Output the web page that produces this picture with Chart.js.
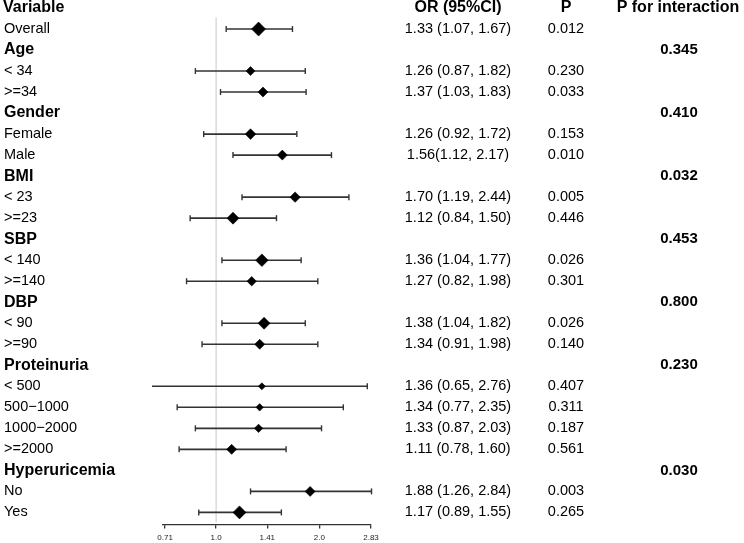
<!DOCTYPE html>
<html>
<head>
<meta charset="utf-8">
<script src="https://cdn.jsdelivr.net/npm/chart.js@4"></script>
<style>
  html, body { margin: 0; padding: 0; background: #fff; }
  canvas { display: block; }
</style>
</head>
<body>
<canvas id="forest" width="744" height="543"></canvas>
<script>
// rows after the header row (row 0)
const rowLabels = ["Overall", "Age", "< 34", ">=34", "Gender", "Female", "Male", "BMI", "< 23", ">=23",
  "SBP", "< 140", ">=140", "DBP", "< 90", ">=90", "Proteinuria", "< 500", "500\u22121000", "1000\u22122000",
  ">=2000", "Hyperuricemia", "No", "Yes"];
const groupRows = ["Age", "Gender", "BMI", "SBP", "DBP", "Proteinuria", "Hyperuricemia"];
const orValues = [1.33, null, 1.26, 1.37, null, 1.26, 1.56, null, 1.70, 1.12, null, 1.36, 1.27, null,
  1.38, 1.34, null, 1.36, 1.34, 1.33, 1.11, null, 1.88, 1.17];
const ciLower = [1.07, null, 0.87, 1.03, null, 0.92, 1.12, null, 1.19, 0.84, null, 1.04, 0.82, null,
  1.04, 0.91, null, 0.65, 0.77, 0.87, 0.78, null, 1.26, 0.89];
const ciUpper = [1.67, null, 1.82, 1.83, null, 1.72, 2.17, null, 2.44, 1.50, null, 1.77, 1.98, null,
  1.82, 1.98, null, 2.76, 2.35, 2.03, 1.60, null, 2.84, 1.55];
const orText = ["1.33 (1.07, 1.67)", "", "1.26 (0.87, 1.82)", "1.37 (1.03, 1.83)", "", "1.26 (0.92, 1.72)",
  "1.56(1.12, 2.17)", "", "1.70 (1.19, 2.44)", "1.12 (0.84, 1.50)", "", "1.36 (1.04, 1.77)",
  "1.27 (0.82, 1.98)", "", "1.38 (1.04, 1.82)", "1.34 (0.91, 1.98)", "", "1.36 (0.65, 2.76)",
  "1.34 (0.77, 2.35)", "1.33 (0.87, 2.03)", "1.11 (0.78, 1.60)", "", "1.88 (1.26, 2.84)", "1.17 (0.89, 1.55)"];
const pValues = ["0.012", "", "0.230", "0.033", "", "0.153", "0.010", "", "0.005", "0.446", "", "0.026",
  "0.301", "", "0.026", "0.140", "", "0.407", "0.311", "0.187", "0.561", "", "0.003", "0.265"];
const pInteraction = ["", "0.345", "", "", "0.410", "", "", "0.032", "", "", "0.453", "", "", "0.800",
  "", "", "0.230", "", "", "", "", "0.030", "", ""];
// relative box weight of each estimate
const boxWeight = [7, null, 4.5, 5, null, 5.3, 5, null, 5.2, 6, null, 6.3, 4.7, null, 6, 5, null,
  3.5, 3.7, 4.2, 5, null, 5, 6.5];
const headers = ["Variable", "OR (95%CI)", "P", "P for interaction"];
const xTicks = [0.71, 1.0, 1.41, 2.0, 2.83];
const xTickLabels = ["0.71", "1.0", "1.41", "2.0", "2.83"];

const LINE = "#333";
const FONT = "'Liberation Sans', Arial, sans-serif";

const estRows = orValues.map((v, i) => (v == null ? null : i)).filter((i) => i != null);

const ciSets = estRows.map((i) => ({
  data: [{ x: ciLower[i], y: i + 1 }, { x: ciUpper[i], y: i + 1 }],
  showLine: true,
  borderColor: LINE,
  borderWidth: 1.6,
  pointStyle: "line",
  pointRotation: 90,
  pointRadius: 3,
  pointBorderColor: LINE,
  pointBorderWidth: 1.4,
  clip: false,
  order: 1,
}));

const diamondSet = {
  data: estRows.map((i) => ({ x: orValues[i], y: i + 1 })),
  pointStyle: "rectRot",
  pointRadius: estRows.map((i) => boxWeight[i]),
  pointBackgroundColor: "#000",
  pointBorderColor: "#000",
  pointBorderWidth: 0.6,
  clip: false,
  order: 0,
};

const tablePlugin = {
  id: "tableText",
  beforeDatasetsDraw(chart) {
    const { ctx, scales } = chart;
    const x1 = scales.x.getPixelForValue(1);
    ctx.save();
    ctx.strokeStyle = "#c8c8c8";
    ctx.lineWidth = 1;
    ctx.beginPath();
    ctx.moveTo(x1, scales.y.getPixelForValue(0.45));
    ctx.lineTo(x1, chart.chartArea.bottom - 2);
    ctx.stroke();
    ctx.restore();
  },
  afterDraw(chart) {
    const { ctx, scales } = chart;
    const yAt = (r) => scales.y.getPixelForValue(r);
    ctx.save();
    ctx.fillStyle = "#000";
    ctx.textBaseline = "middle";

    // header row
    ctx.font = "bold 16px " + FONT;
    ctx.textAlign = "left";
    ctx.fillText(headers[0], 3, yAt(0));
    ctx.textAlign = "center";
    ctx.fillText(headers[1], 458, yAt(0));
    ctx.fillText(headers[2], 566, yAt(0));
    ctx.fillText(headers[3], 678, yAt(0));

    rowLabels.forEach((lab, i) => {
      const y = yAt(i + 1);
      const isGroup = groupRows.includes(lab);
      ctx.textAlign = "left";
      ctx.font = (isGroup ? "bold 16px " : "14.5px ") + FONT;
      ctx.fillText(lab, 4, y);
      ctx.textAlign = "center";
      ctx.font = "14.5px " + FONT;
      if (orText[i]) ctx.fillText(orText[i], 458, y);
      if (pValues[i]) ctx.fillText(pValues[i], 566, y);
      if (pInteraction[i]) {
        ctx.font = "bold 15px " + FONT;
        ctx.fillText(pInteraction[i], 679, y);
      }
    });
    ctx.restore();
  },
};

new Chart(document.getElementById("forest"), {
  type: "scatter",
  data: { datasets: [diamondSet, ...ciSets] },
  options: {
    responsive: false,
    devicePixelRatio: 1,
    animation: false,
    layout: { autoPadding: false, padding: { left: 163, right: 373, top: 0, bottom: -5 } },
    plugins: { legend: { display: false }, tooltip: { enabled: false } },
    scales: {
      x: {
        type: "logarithmic",
        min: 0.71,
        max: 2.83,
        afterBuildTicks: (scale) => {
          scale.ticks = xTicks.map((v) => ({ value: v }));
        },
        ticks: {
          autoSkip: false,
          maxRotation: 0,
          padding: 5,
          color: "#222",
          font: { family: FONT, size: 8 },
          callback: (v, idx) => xTickLabels[idx],
        },
        grid: { drawOnChartArea: false, tickLength: 4, color: LINE, lineWidth: 1.3 },
        border: { color: LINE, width: 1.3 },
      },
      y: {
        type: "linear",
        display: false,
        reverse: true,
        min: -0.381,
        max: 24.571,
      },
    },
  },
  plugins: [tablePlugin],
});
</script>
</body>
</html>
